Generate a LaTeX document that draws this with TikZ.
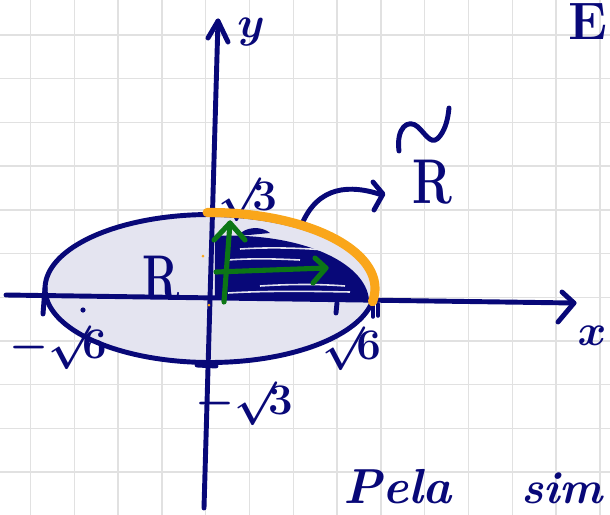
\documentclass[tikz,border=0pt]{standalone}
\usepackage{fontspec}
\definecolor{navy}{RGB}{8,8,120}
\definecolor{lav}{RGB}{228,228,240}
\definecolor{gridc}{RGB}{225,225,225}
\definecolor{grn}{RGB}{12,118,22}
\definecolor{org}{RGB}{250,166,26}
\tikzset{
  gridline/.style={draw=gridc, line width=0.8pt},
  ink/.style={draw=navy, line width=2.8pt, line cap=round, line join=round},
  gink/.style={draw=grn, line width=2.9pt, line cap=round, line join=round},
  oink/.style={draw=org, line width=5.2pt, line cap=round},
  lbl/.style={text=navy, inner sep=0pt},
}
\begin{document}
\begin{tikzpicture}[x=0.02cm,y=-0.02cm]
\useasboundingbox (0,0) rectangle (610,515);
\clip (0,0) rectangle (610,515);
\fill[white] (0,0) rectangle (610,515);
% grid
\foreach \i in {0,...,13} \draw[gridline] ({30.5+43.8*\i},0) -- ({30.5+43.8*\i},515);
\foreach \j in {0,...,10} \draw[gridline] (0,{35+43.7*\j}) -- (610,{35+43.7*\j});
% ellipse region R
\path[fill=lav] plot[domain=0:360,samples=120,smooth cycle] ({210+165*cos(\x)},{288.5-74*sin(\x)});
% hatched region
\fill[navy] (215,299) -- (215,236) .. controls (300,232) and (366,262) .. (369,300) -- cycle;
\fill[navy] (238,236) .. controls (245,226) and (262,226) .. (270,233) -- cycle;
\draw[draw=lav, line width=0.9pt] (240,249) .. controls (270,247) and (300,248) .. (325,250);
\draw[draw=lav, line width=0.9pt] (228,260) .. controls (255,258) and (280,259) .. (300,260);
\draw[draw=lav, line width=0.9pt] (260,286) .. controls (290,284) and (320,284) .. (345,286);
\draw[draw=lav, line width=0.9pt] (228,293) .. controls (260,291) and (300,291) .. (350,292);
% ellipse outline
\draw[ink] plot[domain=0:360,samples=120,smooth cycle] ({210+165*cos(\x)},{288.5-74*sin(\x)});
% axes
\coordinate (xs) at (6,295);
\coordinate (xe) at (574,303);
\coordinate (ys) at (204,508);
\coordinate (ye) at (218,21);
\draw[ink] (xs) -- (xe);
\draw[ink] (562,292) -- (xe) -- (558,322);
\draw[ink] (ys) -- (ye);
\draw[ink] (208,38) -- (ye) -- (228,42);
% ticks and marks
\draw[ink] (45,288) -- (43,314);
\draw[ink] (337,303) -- (336,313);
\draw[ink] (197,365) -- (216,366);
\draw[ink, line width=2pt] (373,304) -- (373,317);
\draw[ink, line width=2pt] (378,304) -- (378,316);
\fill[navy] (83,310) circle [radius=2.6];
\fill[org] (203,256) circle [radius=1.5];
\fill[org] (209,305) circle [radius=1.5];
% labels
\node[lbl, font=\fontsize{34}{36}\selectfont\boldmath] (ylab) at (251,32) {$y$};
\node[lbl, font=\fontsize{32}{34}\selectfont\boldmath] (xlab) at (592,336) {$x$};
\node[lbl, font=\fontsize{36}{38}\selectfont\bfseries] (Rlab) at (161,278) {\scalebox{0.7}[1]{R}};
\node[lbl, font=\fontsize{24}{26}\selectfont\boldmath] (s3) at (248,200) {$\surd\!3$};
\node[lbl, font=\fontsize{24}{26}\selectfont\boldmath] (ms3) at (244,404) {$-\surd\!3$};
\node[lbl, font=\fontsize{24}{26}\selectfont\boldmath] (ms6) at (58,348) {$-\surd\!6$};
\node[lbl, font=\fontsize{24}{26}\selectfont\boldmath] (s6) at (352,349) {$\surd\!6$};
\node[lbl, font=\fontsize{36}{38}\selectfont\bfseries] (Rt) at (432,182) {\scalebox{0.75}[1]{R}};
\draw[ink] (399,151) .. controls (396,128) and (408,118) .. (418,127)
           .. controls (428,137) and (432,146) .. (440,136)
           .. controls (446,128) and (448,118) .. (449,108);
\node[lbl, font=\fontsize{30}{32}\selectfont\bfseries, anchor=east] (Etxt) at (608,22) {E};
\node[lbl, font=\fontsize{28}{30}\selectfont\bfseries\itshape, anchor=base west] (pela) at (343,503) {Pela};
\node[lbl, font=\fontsize{26}{28}\selectfont\bfseries\itshape, anchor=base east] (sim) at (603,503) {sim};
% green arrows
\coordinate (gv0) at (224,302);
\coordinate (gv1) at (230,223);
\coordinate (gh0) at (216,272);
\coordinate (gh1) at (326,268);
\draw[gink] (gv0) -- (gv1);
\draw[gink] (214,240) -- (gv1) -- (245,240);
\draw[gink] (gh0) -- (gh1);
\draw[gink] (315,258) -- (gh1) -- (313,283);
% arrow towards R tilde
\coordinate (c0) at (302,224);
\coordinate (c1) at (382,195);
\draw[ink] (c0) .. controls (318,186) and (350,184) .. (c1);
\draw[ink] (373,182) -- (383,194) -- (374,210);
% orange boundary arc
\draw[oink] plot[domain=91:-10,samples=60,smooth] ({210+165*cos(\x)},{288.5-76*sin(\x)});
\end{tikzpicture}
\end{document}
